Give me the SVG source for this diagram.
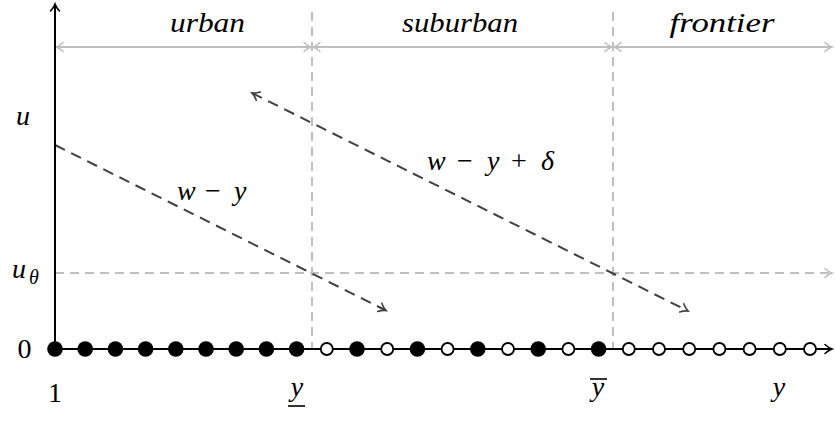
<svg xmlns="http://www.w3.org/2000/svg" width="835" height="422" viewBox="0 0 835 422">
<style>
  .mi { font-style: italic; font-size: 28px; fill: #000; }
  .rm { font-style: normal; font-size: 28px; fill: #000; }
  .axis { stroke: #000; stroke-width: 2; fill: none; }
  .guide { stroke: #bfbfbf; stroke-width: 2; fill: none; stroke-dasharray: 9 6; }
  .range { stroke: #bfbfbf; stroke-width: 2; fill: none; }
  .curve { stroke: #404040; stroke-width: 2; fill: none; stroke-dasharray: 11 7; }
  .full { fill: #000; stroke: none; }
  .empty { fill: #fff; stroke: #000; stroke-width: 1.8; }
  .bar { stroke: #000; stroke-width: 1.6; }
</style>
<defs>
  <marker id="tipBlack" viewBox="-10 -7 12 14" refX="0" refY="0" markerWidth="12" markerHeight="14" markerUnits="userSpaceOnUse" orient="auto-start-reverse" overflow="visible">
    <path d="M -7,-4.5 C -4,-1.6 -1.5,-0.5 0,0 C -1.5,0.5 -4,1.6 -7,4.5" fill="none" stroke="#000" stroke-width="1.6" stroke-linecap="round"/>
  </marker>
  <marker id="tipGray" viewBox="-10 -7 12 14" refX="0" refY="0" markerWidth="12" markerHeight="14" markerUnits="userSpaceOnUse" orient="auto-start-reverse" overflow="visible">
    <path d="M -7,-4.5 C -4,-1.6 -1.5,-0.5 0,0 C -1.5,0.5 -4,1.6 -7,4.5" fill="none" stroke="#bfbfbf" stroke-width="1.6" stroke-linecap="round"/>
  </marker>
  <marker id="tipDark" viewBox="-10 -7 12 14" refX="0" refY="0" markerWidth="12" markerHeight="14" markerUnits="userSpaceOnUse" orient="auto-start-reverse" overflow="visible">
    <path d="M -7,-4.5 C -4,-1.6 -1.5,-0.5 0,0 C -1.5,0.5 -4,1.6 -7,4.5" fill="none" stroke="#404040" stroke-width="1.6" stroke-linecap="round"/>
  </marker>
</defs>

<g id="guides">
  <line class="guide" x1="312" y1="12" x2="312" y2="349"/>
  <line class="guide" x1="613" y1="12" x2="613" y2="349"/>
  <line class="guide" x1="55" y1="273" x2="832" y2="273" marker-end="url(#tipGray)"/>
</g>

<g font-family="Liberation Serif, serif">
<g id="ranges">
  <line class="range" x1="56" y1="47" x2="311" y2="47" marker-start="url(#tipGray)" marker-end="url(#tipGray)"/>
  <line class="range" x1="313" y1="47" x2="612" y2="47" marker-start="url(#tipGray)" marker-end="url(#tipGray)"/>
  <line class="range" x1="614" y1="47" x2="832" y2="47" marker-start="url(#tipGray)" marker-end="url(#tipGray)"/>
  <text class="mi" x="207.5" y="32" text-anchor="middle" textLength="75" lengthAdjust="spacingAndGlyphs">urban</text>
  <text class="mi" x="460" y="32" text-anchor="middle" textLength="116" lengthAdjust="spacingAndGlyphs">suburban</text>
  <text class="mi" x="722" y="32" text-anchor="middle" textLength="105" lengthAdjust="spacingAndGlyphs">frontier</text>
</g>

<g id="connectors">
  <line id="line-w-y" class="curve" x1="55" y1="145" x2="386" y2="310.5" marker-end="url(#tipDark)"/>
  <line id="line-w-y-delta" class="curve" x1="252" y1="93" x2="688" y2="311" marker-start="url(#tipDark)" marker-end="url(#tipDark)"/>
</g>

<g id="axes">
  <line class="axis" x1="55" y1="349" x2="55" y2="4" marker-end="url(#tipBlack)"/>
  <line class="axis" x1="55" y1="349" x2="832" y2="349" marker-end="url(#tipBlack)"/>
</g>

<g id="dots">
  <circle class="full" cx="55" cy="349" r="7.8"/>
  <circle class="full" cx="85.2" cy="349" r="7.8"/>
  <circle class="full" cx="115.4" cy="349" r="7.8"/>
  <circle class="full" cx="145.6" cy="349" r="7.8"/>
  <circle class="full" cx="175.8" cy="349" r="7.8"/>
  <circle class="full" cx="206" cy="349" r="7.8"/>
  <circle class="full" cx="236.2" cy="349" r="7.8"/>
  <circle class="full" cx="266.4" cy="349" r="7.8"/>
  <circle class="full" cx="296.6" cy="349" r="7.8"/>
  <circle class="empty" cx="326.8" cy="349" r="6"/>
  <circle class="full" cx="357" cy="349" r="7.8"/>
  <circle class="empty" cx="387.2" cy="349" r="6"/>
  <circle class="full" cx="417.4" cy="349" r="7.8"/>
  <circle class="empty" cx="447.6" cy="349" r="6"/>
  <circle class="full" cx="477.8" cy="349" r="7.8"/>
  <circle class="empty" cx="508" cy="349" r="6"/>
  <circle class="full" cx="538.2" cy="349" r="7.8"/>
  <circle class="empty" cx="568.4" cy="349" r="6"/>
  <circle class="full" cx="598.6" cy="349" r="7.8"/>
  <circle class="empty" cx="628.8" cy="349" r="6"/>
  <circle class="empty" cx="659" cy="349" r="6"/>
  <circle class="empty" cx="689.2" cy="349" r="6"/>
  <circle class="empty" cx="719.4" cy="349" r="6"/>
  <circle class="empty" cx="749.6" cy="349" r="6"/>
  <circle class="empty" cx="779.8" cy="349" r="6"/>
  <circle class="empty" cx="810" cy="349" r="6"/>
</g>

<g id="label-w-y">
  <text class="mi" x="177" y="200">w</text>
  <text class="rm" x="205" y="200">−</text>
  <text class="mi" x="234" y="200">y</text>
</g>
<g id="label-w-y-delta">
  <text class="mi" x="427" y="170">w</text>
  <text class="rm" x="457" y="170">−</text>
  <text class="mi" x="487" y="170">y</text>
  <text class="rm" x="511" y="170">+</text>
  <text class="mi" x="541" y="170">δ</text>
</g>

<g id="y-labels">
  <text class="mi" x="16" y="125">u</text>
  <text class="mi" x="12" y="278">u</text>
  <text class="mi" x="29" y="284" style="font-size:20px">θ</text>
  <text class="rm" x="24.5" y="358" text-anchor="middle">0</text>
</g>

<g id="x-labels">
  <text class="rm" x="55" y="402" text-anchor="middle">1</text>
  <text class="mi" x="297" y="396" text-anchor="middle">y</text>
  <line class="bar" x1="288" y1="406" x2="305" y2="406"/>
  <text class="mi" x="598" y="396" text-anchor="middle">y</text>
  <line class="bar" x1="590" y1="379" x2="607" y2="379"/>
  <text class="mi" x="779" y="396" text-anchor="middle">y</text>
</g>
</g>
</svg>
